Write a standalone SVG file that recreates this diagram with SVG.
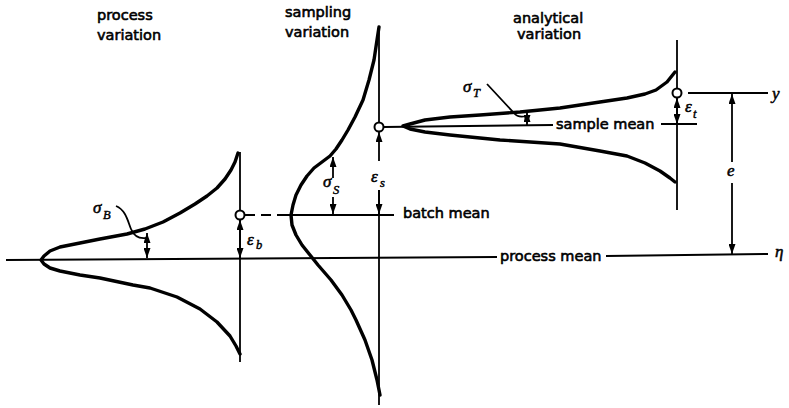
<svg xmlns="http://www.w3.org/2000/svg" width="789" height="408" viewBox="0 0 789 408">
<defs>
<marker id="ah" markerUnits="userSpaceOnUse" markerWidth="10" markerHeight="7" refX="10" refY="3.5" orient="auto-start-reverse"><path d="M0,0 L10,3.5 L0,7 z" fill="#000"/></marker>
</defs>
<style>
.t{font-family:"DejaVu Sans",sans-serif;font-size:14.5px;fill:#000;stroke:#000;stroke-width:0.6}
.g{font-family:"Liberation Serif",serif;font-style:italic;font-size:17px;fill:#000;stroke:#000;stroke-width:0.5}
.s{font-family:"Liberation Serif",serif;font-style:italic;font-size:12.5px;fill:#000;stroke:#000;stroke-width:0.45}
.curve{fill:none;stroke:#000;stroke-width:3.4;stroke-linejoin:round;stroke-linecap:round}
.ax{fill:none;stroke:#000;stroke-width:1.8}
.mean{fill:none;stroke:#000;stroke-width:2.1}
.arr{fill:none;stroke:#000;stroke-width:1.8}
.pt{fill:#fff;stroke:#000;stroke-width:2}
</style>
<rect width="789" height="408" fill="#fff"/>
<g id="titles">
<text class="t" x="97" y="20">process</text>
<text class="t" x="97" y="40">variation</text>
<text class="t" x="285" y="17">sampling</text>
<text class="t" x="285" y="37">variation</text>
<text class="t" x="513" y="23">analytical</text>
<text class="t" x="517" y="39">variation</text>
</g>
<g id="process-variation">
<path class="curve" d="M238,153 L235,162 L231,170 L225,179 L217,188 L207,196 L195,204 L180,213 L163,222 L145,229 L127,234 L100,239 L80,243 L60,247 L50,251 L44,256 L41,260 L44,264 L50,268 L60,271 L80,275 L100,278 L133,285 L150,288 L177,297 L200,309 L217,322 L230,336 L236,346 L240,354"/>
<line class="ax" x1="240" y1="152" x2="240" y2="362"/>
</g>
<g id="sampling-variation">
<path class="curve" d="M379,27 L377,40 L374,60 L369,80 L363,100 L355,117 L348,130 L342,140 L336,149 L330,156 L322,162 L314,168 L307,176 L301,185 L296,195 L293,205 L291,215 L292,225 L296,235 L302,245 L310,255 L318,265 L331,280 L342,295 L351,310 L356,320 L365,340 L372,360 L377,380 L380,395"/>
<line class="ax" x1="379" y1="27" x2="379" y2="123"/>
<line class="ax" x1="379" y1="190" x2="379" y2="405"/>
</g>
<g id="analytical-variation">
<path class="curve" d="M675,72 L667,82 L656,90 L645,94 L627,98 L600,102 L560,108 L520,112 L480,115 L450,117 L425,120 L410,124 L403,126 L410,129 L425,132 L450,135 L500,140 L560,144 L600,151 L627,156 L645,163 L660,171 L670,178 L675,182"/>
<line class="ax" x1="677" y1="40" x2="677" y2="210"/>
</g>
<g id="connectors">
<line class="mean" x1="6" y1="260" x2="497" y2="257"/>
<line class="mean" x1="606" y1="256" x2="768" y2="254"/>
<line class="mean" x1="245" y1="215" x2="285" y2="215" stroke-dasharray="10,6"/>
<line class="mean" x1="285" y1="215" x2="394" y2="215"/>
<line class="mean" x1="384" y1="127" x2="553" y2="125"/>
<line class="mean" x1="661" y1="124" x2="697" y2="124"/>
<line class="mean" x1="688" y1="93" x2="768" y2="93"/>
<line class="arr" x1="147" y1="233" x2="147" y2="258" marker-start="url(#ah)" marker-end="url(#ah)"/>
<path class="arr" d="M116,206 C126,210 128,222 131,229 C134,236 139,239 146,238"/>
<line class="arr" x1="240" y1="220" x2="240" y2="258" marker-start="url(#ah)" marker-end="url(#ah)"/>
<line class="arr" x1="333" y1="178" x2="333" y2="157" marker-end="url(#ah)"/>
<line class="arr" x1="333" y1="197" x2="333" y2="214" marker-end="url(#ah)"/>
<line class="arr" x1="379" y1="161" x2="379" y2="132" marker-end="url(#ah)"/>
<line class="arr" x1="379" y1="190" x2="379" y2="214" marker-end="url(#ah)"/>
<line class="arr" x1="527" y1="112" x2="527" y2="125" marker-start="url(#ah)" marker-end="url(#ah)"/>
<path class="arr" d="M487,84 L514,113 Q518,118 526,116"/>
<line class="arr" x1="677" y1="98" x2="677" y2="124" marker-start="url(#ah)" marker-end="url(#ah)"/>
<line class="arr" x1="732" y1="162" x2="732" y2="94" marker-end="url(#ah)"/>
<line class="arr" x1="732" y1="183" x2="732" y2="254" marker-end="url(#ah)"/>
<circle class="pt" cx="240" cy="215" r="4.5"/>
<circle class="pt" cx="379" cy="127" r="4.5"/>
<circle class="pt" cx="677" cy="93" r="4.5"/>
</g>
<g id="labels">
<text class="t" x="403" y="218">batch mean</text>
<text class="t" x="500" y="261">process mean</text>
<text class="t" x="556" y="129">sample mean</text>
<text class="g" x="93" y="213">σ</text><text class="s" x="103" y="219">B</text>
<text class="g" x="323" y="187">σ</text><text class="s" x="333" y="194">S</text>
<text class="g" x="463" y="92">σ</text><text class="s" x="473" y="97">T</text>
<text class="g" x="247" y="245">ε</text><text class="s" x="256" y="249">b</text>
<text class="g" x="371" y="182">ε</text><text class="s" x="380" y="187">s</text>
<text class="g" x="685" y="112">ε</text><text class="s" x="693" y="118">t</text>
<text class="g" x="727" y="176">e</text>
<text class="g" x="772" y="99">y</text>
<text class="g" x="775" y="257">η</text>
</g>
</svg>
